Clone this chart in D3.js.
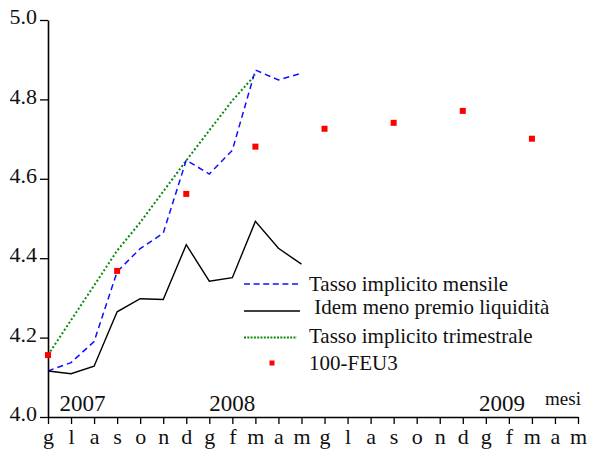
<!DOCTYPE html>
<html>
<head>
<meta charset="utf-8">
<script src="https://cdn.jsdelivr.net/npm/d3@7"></script>
<style>
  html, body { margin: 0; padding: 0; background: #fff; }
  svg { display: block; }
</style>
</head>
<body>
<svg id="chart" width="593" height="452"></svg>
<script>
// Month initials (June 2007 – May 2009)
const months = ["g","l","a","s","o","n","d","g","f","m","a","m",
                "g","l","a","s","o","n","d","g","f","m","a","m"];
const years = ["2007", "2008", "2009"];
const yTicks = [4.0, 4.2, 4.4, 4.6, 4.8, 5.0];

// Monthly implied rate (June 2007 – May 2008)
const mensile = [4.116, 4.137, 4.190, 4.366, 4.424, 4.463, 4.647, 4.612, 4.672, 4.874, 4.849, 4.866];
// Same rate net of the liquidity premium
const netto = [4.116, 4.109, 4.128, 4.265, 4.298, 4.296, 4.434, 4.342, 4.351, 4.493, 4.425, 4.385];
// Quarterly implied rate (June 2007 – March 2008)
const trimestrale = [4.156, 4.244, 4.331, 4.419, 4.490, 4.568, 4.646, 4.722, 4.797, 4.862];
// 100 - FEU3 futures, quarterly from June 2007
const feu3Months = [0, 3, 6, 9, 12, 15, 18, 21];
const feu3 = [4.156, 4.368, 4.562, 4.681, 4.726, 4.741, 4.771, 4.701];

const legendLabels = ["Tasso implicito mensile", " Idem meno premio liquidità",
                      "Tasso implicito trimestrale", "100-FEU3"];

const FONT = "Liberation Serif";
const svg = d3.select("#chart");

const x = d3.scaleLinear().domain([0, months.length - 1]).range([48, 578]);
const y = d3.scaleLinear().domain([4, 5]).range([417, 20]);

// Axes
const xAxis = d3.axisBottom(x)
  .tickValues(d3.range(months.length))
  .tickFormat(i => months[i])
  .tickSizeInner(7).tickSizeOuter(0).tickPadding(4);
const gx = svg.append("g").attr("transform", `translate(0,${y(4)})`).call(xAxis);
gx.select(".domain").attr("stroke", "#000").attr("stroke-width", 1.6);
gx.selectAll(".tick line").attr("stroke", "#000").attr("stroke-width", 1.3);
gx.selectAll(".tick text").attr("font-size", 22).style("font-family", FONT)
  .attr("fill", "#111").attr("dy", "0.72em");

const yAxis = d3.axisLeft(y)
  .tickValues(yTicks)
  .tickFormat(d3.format(".1f"))
  .tickSizeInner(8).tickSizeOuter(0).tickPadding(3);
const gy = svg.append("g").attr("transform", `translate(${x(0)},0)`).call(yAxis);
gy.select(".domain").attr("stroke", "#000").attr("stroke-width", 1.6);
gy.selectAll(".tick line").attr("stroke", "#000").attr("stroke-width", 1.3);
gy.selectAll(".tick text").attr("font-size", 22).style("font-family", FONT)
  .attr("fill", "#111").attr("dy", "0.17em");

// Year labels above the month axis
const yearPos = [1.5, 8, 19.7];
svg.selectAll("text.year").data(years).join("text")
  .attr("class", "year")
  .attr("x", (d, i) => x(yearPos[i]))
  .attr("y", 411)
  .attr("text-anchor", "middle")
  .style("font-family", FONT)
  .attr("font-size", 23)
  .attr("fill", "#111")
  .text(d => d);

svg.append("text")
  .attr("x", 563).attr("y", 405)
  .attr("text-anchor", "middle")
  .style("font-family", FONT)
  .attr("font-size", 19)
  .attr("fill", "#111")
  .text("mesi");

// Series lines
const line = d3.line().x((d, i) => x(i)).y(d => y(d));

svg.append("path").datum(trimestrale)
  .attr("d", line).attr("fill", "none")
  .attr("stroke", "#0a8a0a").attr("stroke-width", 2)
  .attr("stroke-dasharray", "2,2.2");

svg.append("path").datum(mensile)
  .attr("d", line).attr("fill", "none")
  .attr("stroke", "#1010ff").attr("stroke-width", 1.5)
  .attr("stroke-dasharray", "6,4");

svg.append("path").datum(netto)
  .attr("d", line).attr("fill", "none")
  .attr("stroke", "#000").attr("stroke-width", 1.4);

// Futures points
svg.selectAll("rect.feu").data(feu3).join("rect")
  .attr("class", "feu")
  .attr("x", (d, i) => x(feu3Months[i]) - 3)
  .attr("y", d => y(d) - 3)
  .attr("width", 6).attr("height", 6)
  .attr("fill", "#ff0000");

// Legend
const lg = svg.append("g");
const rowY = [284, 311, 337.5, 363];
const textY = [291, 314, 343, 370];

lg.append("line").attr("x1", 244).attr("x2", 300).attr("y1", rowY[0]).attr("y2", rowY[0])
  .attr("stroke", "#1010ff").attr("stroke-width", 1.4).attr("stroke-dasharray", "6,3.6");
lg.append("line").attr("x1", 244).attr("x2", 300).attr("y1", rowY[1]).attr("y2", rowY[1])
  .attr("stroke", "#000").attr("stroke-width", 1.4);
lg.append("line").attr("x1", 244).attr("x2", 297).attr("y1", rowY[2]).attr("y2", rowY[2])
  .attr("stroke", "#0a8a0a").attr("stroke-width", 2).attr("stroke-dasharray", "2,1.3");
lg.append("rect").attr("x", 269.5).attr("y", rowY[3] - 2.5).attr("width", 5).attr("height", 5)
  .attr("fill", "#ff0000");

lg.selectAll("text").data(legendLabels).join("text")
  .attr("x", 309)
  .attr("y", (d, i) => textY[i])
  .style("font-family", FONT)
  .attr("font-size", 21)
  .attr("fill", "#111")
  .attr("xml:space", "preserve")
  .style("white-space", "pre")
  .text(d => d);
</script>
</body>
</html>
